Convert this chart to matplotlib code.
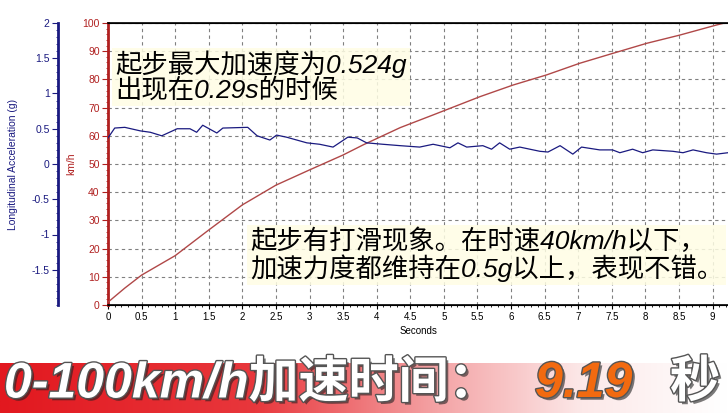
import numpy as np
import matplotlib.pyplot as plt
from matplotlib import patheffects as pe
from matplotlib.ticker import MultipleLocator
from matplotlib.colors import LinearSegmentedColormap

plt.rcParams['font.family'] = ['Liberation Sans', 'Noto Sans CJK SC', 'DejaVu Sans']

# Speed trace (km/h)
speed_t = [0, 0.25, 0.5, 1.0, 1.5, 2.0, 2.5, 3.0, 3.5, 3.8, 4.35, 4.84, 5.54,
           6.03, 6.53, 7.02, 7.51, 8.02, 8.51, 9.06, 9.23]
speed_kmh = [1, 6, 10.6, 17.5, 26.6, 35.5, 42.5, 47.9, 53.2, 56.8, 62.9, 67.4,
             73.9, 78.0, 81.6, 85.7, 89.2, 92.8, 95.7, 99.3, 100.3]

# Longitudinal acceleration (g)
acc_t = [0.00, 0.10, 0.25, 0.48, 0.63, 0.80, 1.03, 1.22, 1.32, 1.41, 1.62, 1.71,
         2.08, 2.22, 2.41, 2.51, 2.66, 2.96, 3.15, 3.35, 3.57, 3.71, 3.85, 4.09,
         4.35, 4.64, 4.84, 5.09, 5.21, 5.34, 5.58, 5.71, 5.83, 5.98, 6.13, 6.43,
         6.55, 6.73, 6.92, 7.05, 7.32, 7.51, 7.62, 7.81, 7.96, 8.11, 8.41, 8.56,
         8.71, 8.91, 9.06, 9.23]
acc_g = [0.37, 0.51, 0.52, 0.47, 0.45, 0.40, 0.50, 0.50, 0.45, 0.55, 0.44, 0.51,
         0.52, 0.40, 0.34, 0.41, 0.38, 0.30, 0.28, 0.24, 0.38, 0.37, 0.30, 0.28,
         0.26, 0.24, 0.28, 0.23, 0.30, 0.24, 0.26, 0.21, 0.30, 0.21, 0.24, 0.18,
         0.17, 0.26, 0.14, 0.24, 0.20, 0.20, 0.16, 0.21, 0.16, 0.20, 0.18, 0.16,
         0.20, 0.16, 0.14, 0.16]

x_ticks = np.arange(0, 9.01, 0.5)
x_labels = ['%g' % v for v in x_ticks]
kmh_ticks = np.arange(0, 101, 10)
g_ticks = [2, 1.5, 1, 0.5, 0, -0.5, -1, -1.5]
g_labels = ['2', '1.5', '1', '0.5', '0', '-0.5', '-1', '-1.5']

note1 = '起步最大加速度为0.524g\n出现在0.29s的时候'
note2 = '起步有打滑现象。在时速40km/h以下，\n加速力度都维持在0.5g以上，表现不错。'

RED = '#b02020'
NAVY = '#1a1a80'
W, H = 728, 413

fig = plt.figure(figsize=(W / 100, H / 100), dpi=100)
ax = fig.add_axes([108 / W, 108 / H, 620 / W, 282 / H])

ax.plot(speed_t, speed_kmh, color='#b04848', lw=1.0, zorder=3)
ax.set_xlim(0, 9.23)
ax.set_ylim(0, 100)
ax.set_xticks(x_ticks)
ax.set_xticklabels(x_labels)
ax.xaxis.set_minor_locator(MultipleLocator(0.1))
ax.set_yticks(kmh_ticks)
ax.yaxis.set_minor_locator(MultipleLocator(2))
ax.tick_params(axis='x', labelsize=7, length=3, color='black', pad=2)
ax.tick_params(axis='x', which='minor', length=1.5)
ax.tick_params(axis='y', labelsize=7.5, colors=RED, length=4, pad=2)
ax.tick_params(axis='y', which='minor', length=1.5, color=RED)
ax.grid(True, color='#808080', ls=(0, (3, 3)), lw=0.8)
ax.spines['left'].set_color(RED)
ax.spines['left'].set_linewidth(2)
ax.spines['right'].set_visible(False)
ax.spines['top'].set_linewidth(1.2)
ax.spines['bottom'].set_linewidth(1.2)
ax.set_xlabel('Seconds', fontsize=7, labelpad=3)
ax.set_ylabel('km/h', fontsize=7.5, color=RED, labelpad=4)

ax2 = ax.twinx()
ax2.plot(acc_t, acc_g, color=NAVY, lw=0.9, zorder=3)
ax2.set_ylim(-2, 2)
ax2.yaxis.tick_left()
ax2.yaxis.set_label_position('left')
ax2.spines['left'].set_position(('outward', 36))
ax2.spines['left'].set_visible(True)
ax2.spines['left'].set_color(NAVY)
ax2.spines['left'].set_linewidth(2)
ax2.spines['right'].set_visible(False)
ax2.set_yticks(g_ticks)
ax2.set_yticklabels(g_labels)
ax2.yaxis.set_minor_locator(MultipleLocator(0.1))
ax2.tick_params(axis='y', labelsize=7.5, colors=NAVY, length=4, pad=2)
ax2.tick_params(axis='y', which='minor', length=1.5, color=NAVY)
ax2.set_ylabel('Longitudinal Acceleration (g)', fontsize=7.5, color=NAVY, labelpad=10)

box = dict(boxstyle='square,pad=0.12', fc='#fffde4', ec='none', alpha=0.85)
fig.text(115 / W, 1 - 77 / H, note1, fontsize=19, style='italic', va='center',
         ha='left', linespacing=1.0, bbox=box)
fig.text(250 / W, 1 - 255 / H, note2, fontsize=19, style='italic', va='center',
         ha='left', linespacing=1.0, bbox=box)

# red gradient banner
bax = fig.add_axes([0, 0, 1, 50 / H])
cmap = LinearSegmentedColormap.from_list(
    'banner', [(0, '#e2181f'), (0.35, '#e8373c'), (0.6, '#f4a3a5'), (0.8, '#fce8e8'), (1, '#ffffff')])
bax.imshow(np.linspace(0, 1, 256)[None, :], aspect='auto', cmap=cmap, extent=[0, 1, 0, 1])
bax.axis('off')

shadow = [pe.withSimplePatchShadow(offset=(2, -2), shadow_rgbFace='#222222', alpha=0.6),
          pe.Stroke(linewidth=2, foreground='#555555'), pe.Normal()]
fig.text(4 / W, 1 - 384 / H, '0-100km/h加速时间：', fontsize=36, weight='heavy',
         style='italic', color='white', va='center', ha='left', path_effects=shadow)
fig.text(535 / W, 1 - 384 / H, '9.19', fontsize=36, weight='heavy', style='italic',
         color='#f26a10', va='center', ha='left', path_effects=shadow)
fig.text(670 / W, 1 - 384 / H, '秒', fontsize=36, weight='heavy', color='white',
         va='center', ha='left', path_effects=shadow)

fig.savefig('out.png', dpi=100)
